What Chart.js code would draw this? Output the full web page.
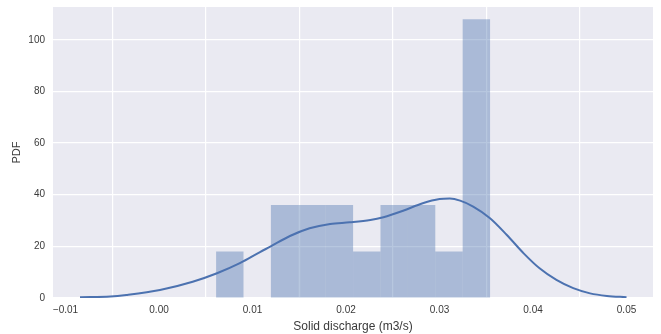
<!DOCTYPE html>
<html>
<head>
<meta charset="utf-8">
<script src="https://cdn.jsdelivr.net/npm/chart.js@4"></script>
<style>
  body { margin: 0; background: #ffffff; }
  canvas { display: block; }
</style>
</head>
<body>
<canvas id="distChart" width="661" height="334"></canvas>
<script>
// Histogram (density) - bin centers and heights
const binCenters = [0.00757, 0.01050, 0.01343, 0.01636, 0.01929, 0.02222, 0.02515, 0.02808, 0.03101, 0.03394];
const binHeights = [18, 0, 36, 36, 36, 18, 36, 36, 18, 108];

// KDE curve
const kdeX = [-0.00845, -0.0052, -0.0035, 0.0001, 0.0036, 0.0062, 0.0087, 0.0108, 0.0119, 0.014, 0.0161, 0.0183, 0.0204, 0.0226, 0.024, 0.0261, 0.0282, 0.030, 0.0311, 0.0322, 0.0336, 0.0354, 0.0372, 0.039, 0.0407, 0.0425, 0.0443, 0.0461, 0.0479, 0.050];
const kdeY = [0.3, 0.6, 1.2, 3.1, 6.3, 9.6, 13.6, 17.8, 19.9, 24, 27, 28.7, 29.3, 30.2, 31.3, 33.8, 36.7, 38.3, 38.5, 37.7, 35.4, 30.9, 24.4, 17.3, 11.5, 7, 3.8, 1.8, 0.8, 0.3];

// Axis ticks
const xTicks = [-0.01, 0.00, 0.01, 0.02, 0.03, 0.04, 0.05];
const yTicks = [0, 20, 40, 60, 80, 100];

const xLabel = 'Solid discharge (m3/s)';
const yLabel = 'PDF';

// fond gris de la zone du graphique (style seaborn)
const plotBackground = {
    id: 'plotBackground',
    beforeDraw(chart) {
        const { ctx, chartArea: a } = chart;
        ctx.save();
        ctx.fillStyle = '#EAEAF2';
        ctx.fillRect(a.left, a.top, a.right - a.left, a.bottom - a.top);
        ctx.restore();
    }
};

Chart.defaults.font.family = "'Liberation Sans', Arial, sans-serif";
Chart.defaults.color = '#3a3a3a';

const ctx = document.getElementById('distChart').getContext('2d');
new Chart(ctx, {
    type: 'bar',
    data: {
        datasets: [{
            type: 'line',
            data: kdeX.map((x, i) => ({ x: x, y: kdeY[i] })),
            borderColor: '#4C72B0',
            borderWidth: 2,
            pointRadius: 0,
            cubicInterpolationMode: 'monotone',
            fill: false,
            order: 0
        }, {
            type: 'bar',
            data: binCenters.map((x, i) => ({ x: x, y: binHeights[i] })),
            backgroundColor: 'rgba(76, 114, 176, 0.4)',
            borderWidth: 0,
            inflateAmount: 0,
            barPercentage: 1,
            categoryPercentage: 1,
            order: 1
        }]
    },
    options: {
        responsive: false,
        animation: false,
        layout: { padding: { left: 0, right: 8, top: 7, bottom: 0 } },
        plugins: {
            legend: { display: false },
            tooltip: { enabled: false }
        },
        scales: {
            x: {
                type: 'linear',
                min: -0.01134,
                max: 0.05283,
                offset: false,
                afterBuildTicks: axis => { axis.ticks = xTicks.map(v => ({ value: v })); },
                afterFit: axis => { axis.height = 36; },
                ticks: {
                    padding: 6,
                    font: { size: 10 },
                    maxRotation: 0,
                    callback: v => (v < 0 ? '\u2212' : '') + Math.abs(v).toFixed(2)
                },
                grid: { color: '#ffffff', lineWidth: 1.2, drawTicks: false },
                border: { display: false },
                title: {
                    display: true,
                    text: xLabel,
                    font: { size: 12 },
                    padding: { top: 1, bottom: 0 }
                }
            },
            y: {
                min: 0,
                max: 112.7,
                afterBuildTicks: axis => { axis.ticks = yTicks.map(v => ({ value: v })); },
                afterFit: axis => { axis.width = 53; },
                ticks: {
                    padding: 0,
                    font: { size: 10 }
                },
                // la distance label/zone passe par tickLength (transparent)
                grid: { color: '#ffffff', lineWidth: 1.2, drawTicks: true, tickLength: 8, tickColor: 'rgba(0,0,0,0)' },
                border: { display: false },
                title: {
                    display: true,
                    text: yLabel,
                    font: { size: 11 },
                    padding: { top: 10, bottom: 4 }
                }
            }
        }
    },
    plugins: [plotBackground]
});
</script>
</body>
</html>
